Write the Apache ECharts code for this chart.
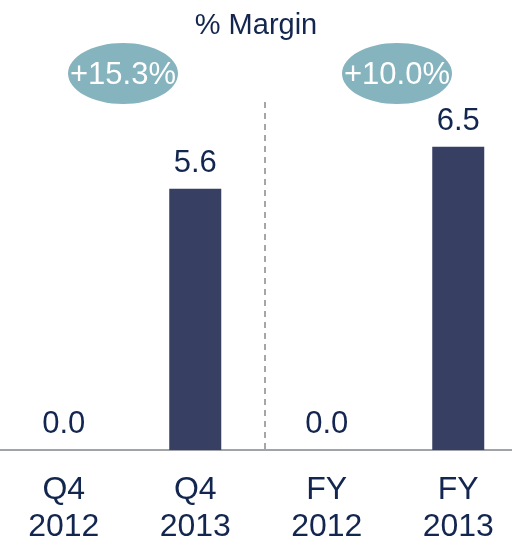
<!DOCTYPE html>
<html>
<head>
<meta charset="utf-8">
<script src="https://cdn.jsdelivr.net/npm/echarts@6/dist/echarts.min.js"></script>
<style>
  html, body { margin: 0; padding: 0; background: #fff; }
  #chart { width: 512px; height: 540px; }
</style>
</head>
<body>
<div id="chart"></div>
<script>
var categories = ['Q4\n2012', 'Q4\n2013', 'FY\n2012', 'FY\n2013'];
var margins = [0.0, 5.6, 0.0, 6.5];
var growthLabels = ['+15.3%', '+10.0%'];

var navy = '#13264f';
var barColor = '#373f63';
var bubbleColor = '#85b3be';
var font = 'Liberation Sans, Arial, sans-serif';

// bubbles sit above each pair of bars
var bubbleX = [123, 397];
var bubbles = [];
growthLabels.forEach(function (txt, i) {
    bubbles.push({
        type: 'ellipse',
        shape: { cx: bubbleX[i], cy: 73.5, rx: 55, ry: 30.5 },
        style: { fill: bubbleColor },
        z: 10
    });
    bubbles.push({
        type: 'text',
        x: bubbleX[i],
        y: 75,
        style: {
            text: txt,
            fill: '#ffffff',
            font: '31px ' + font,
            textAlign: 'center',
            textVerticalAlign: 'middle'
        },
        z: 11
    });
});

var options = {
    animation: false,
    title: {
        text: '% Margin',
        left: 'center',
        top: 6,
        textStyle: { color: navy, fontSize: 29, fontWeight: 'normal', fontFamily: font }
    },
    grid: { left: -2, width: 526, top: 100, bottom: 90, containLabel: false, outerBoundsMode: 'none' },
    xAxis: {
        type: 'category',
        data: categories,
        axisLine: { lineStyle: { color: '#a0a3a8', width: 2 } },
        axisTick: { show: false },
        axisLabel: {
            color: navy,
            fontSize: 32,
            fontFamily: font,
            lineHeight: 37,
            margin: 22
        }
    },
    yAxis: {
        type: 'value',
        min: 0,
        max: 7.5,
        show: false,
        splitLine: { show: false }
    },
    series: [{
        type: 'bar',
        data: margins,
        barWidth: 52,
        itemStyle: { color: barColor },
        label: {
            show: true,
            position: 'top',
            distance: 10,
            color: navy,
            fontSize: 31,
            fontFamily: font,
            formatter: function (p) { return p.value.toFixed(1); }
        }
    }],
    graphic: [{
        type: 'line',
        shape: { x1: 265, y1: 102, x2: 265, y2: 449 },
        style: { stroke: '#a6a6a6', lineWidth: 2, lineDash: [6, 5] }
    }].concat(bubbles)
};

var chart = echarts.init(document.getElementById('chart'));
chart.setOption(options);
</script>
</body>
</html>
